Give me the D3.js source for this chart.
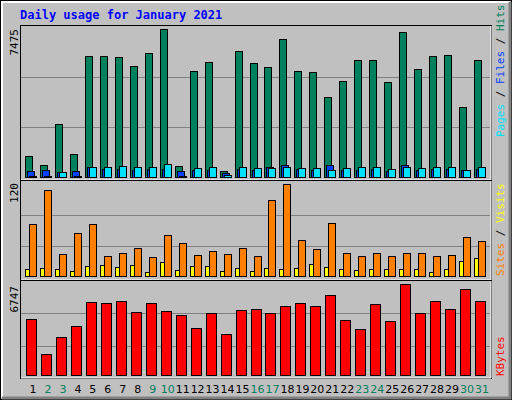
<!DOCTYPE html>
<html><head><meta charset="utf-8">
<script src="https://cdn.jsdelivr.net/npm/d3@7"></script>
<style>body{margin:0;background:#fff}svg{display:block}</style>
</head><body>
<script>
const days = d3.range(1, 32);
const weekend = [2, 3, 9, 10, 16, 17, 23, 24, 30, 31];
const hits = [1049,592,2655,1133,6105,6105,6054,5598,6257,7475,524,5344,5801,271,6359,5750,5547,6968,5344,5293,4025,4837,5902,5902,4786,7323,5446,6105,6156,3518,5902];
const files = [271,321,220,271,474,372,372,321,372,372,271,321,321,169,372,321,474,575,372,321,575,321,321,372,271,575,321,372,372,321,372];
const pages = [50,50,220,50,474,474,524,474,474,626,50,423,474,60,474,423,423,474,423,423,321,423,474,474,372,474,423,474,474,321,474];
const visits = [67.8,112,28.7,56,67.8,26,31,36.5,25,53.5,43,27.4,32.6,28.7,36.5,26,100,120,48,35,70,30,26,30,26,31,31,26,27.4,51,45.6];
const sites = [9,10.4,9,6.5,13,14.3,11.7,14.3,5.2,18.3,7.8,13,13,6.5,10.4,6.5,10.4,9,10.4,15.7,11.7,9,7.8,9,9,9,9,5.2,9,19.6,23.5];
const kbytes = [4152,1557,2817,3633,5412,5338,5487,4671,5338,4745,4449,3485,4597,3040,4819,4893,4597,5116,5338,5116,5931,4078,3411,5264,4004,6747,4597,5487,4893,6376,5487];

const W = 512, H = 400;
const svg = d3.select('body').append('svg').attr('width', W).attr('height', H);
const mono = 'DejaVu Sans Mono, monospace';

// frame
svg.append('rect').attr('x', 0.5).attr('y', 0.5).attr('width', W - 1).attr('height', H - 1)
  .attr('fill', '#c0c0c0').attr('stroke', '#000');
svg.append('path').attr('d', `M2,${H-3}V2H${W-3}`).attr('stroke', '#fff').attr('stroke-width', 2).attr('fill', 'none');
svg.append('path').attr('d', `M2,${H-2}H${W-2}V2`).attr('stroke', '#808080').attr('stroke-width', 3).attr('fill', 'none');

svg.append('text').attr('x', 20).attr('y', 19).attr('fill', '#0000ff')
  .attr('font-family', mono).attr('font-weight', 'bold').attr('font-size', 12)
  .text('Daily usage for January 2021');

const x = d3.scaleLinear().domain([1, 31]).range([33, 482]);

function panel(y0, y1) {
  svg.append('rect').attr('x', 20.5).attr('y', y0 + 0.5).attr('width', 471).attr('height', y1 - y0)
    .attr('fill', '#c0c0c0').attr('stroke', '#000');
  svg.append('path').attr('d', `M21,${y1}H491V${y0 + 1}`).attr('stroke', '#fff').attr('fill', 'none');
}
function grid(y, vals) {
  vals.forEach(v => svg.append('line').attr('x1', 21).attr('x2', 490)
    .attr('y1', Math.round(y(v)) + 0.5).attr('y2', Math.round(y(v)) + 0.5).attr('stroke', '#808080'));
}
function bars(data, y, dx, w, color) {
  svg.append('g').selectAll('rect').data(data).join('rect')
    .attr('x', (d, i) => Math.round(x(days[i]) + dx) + 0.5)
    .attr('y', d => Math.round(y(d)) + 0.5)
    .attr('width', w)
    .attr('height', d => Math.max(0, Math.round(y(0)) - Math.round(y(d))))
    .attr('fill', color).attr('stroke', '#000');
}
function leftLabel(txt, yTop) {
  svg.append('text').attr('transform', `translate(18,${yTop}) rotate(-90)`)
    .attr('text-anchor', 'end').attr('font-family', mono).attr('font-size', 11).text(txt);
}
function rightLabel(parts, yBottom) {
  const t = svg.append('text').attr('transform', `translate(504,${yBottom}) rotate(-90)`)
    .attr('font-family', mono).attr('font-size', 11);
  parts.forEach(p => t.append('tspan').attr('fill', p[1]).text(p[0]));
}

// hits panel
panel(25, 180);
const yH = d3.scaleLinear().domain([0, 7475]).range([176.5, 29]);
grid(yH, [2530, 5055]);
bars(hits, yH, -8, 7, '#00805c');
bars(files, yH, -6, 7, '#0040ff');
bars(pages, yH, -4, 7, '#00e0ff');
leftLabel('7475', 29);
rightLabel([['Pages', '#00e0ff'], [' / ', '#000'], ['Files', '#0040ff'], [' / ', '#000'], ['Hits', '#00805c']], 137);

// visits panel
panel(180, 280);
const yV = d3.scaleLinear().domain([0, 120]).range([276.3, 184.3]);
grid(yV, [39, 80]);
bars(visits, yV, -4, 7, '#ff8000');
bars(sites, yV, -8, 4, '#ffff00');
leftLabel('120', 183);
rightLabel([['Sites', '#ff8000'], [' / ', '#000'], ['Visits', '#ffff00']], 276);

// kbytes panel
panel(280, 378);
const yK = d3.scaleLinear().domain([0, 6747]).range([375.3, 284.3]);
grid(yK, [2175, 4624]);
bars(kbytes, yK, -7, 10, '#ff0000');
leftLabel('6747', 286);
rightLabel([['KBytes', '#ff0000']], 376);

svg.append('g').selectAll('text').data(days).join('text')
  .attr('x', d => x(d)).attr('y', 393).attr('text-anchor', 'middle')
  .attr('font-family', 'DejaVu Sans, sans-serif').attr('font-size', 11)
  .attr('fill', d => weekend.includes(d) ? '#00805c' : '#000')
  .text(d => d);
</script>
</body></html>
